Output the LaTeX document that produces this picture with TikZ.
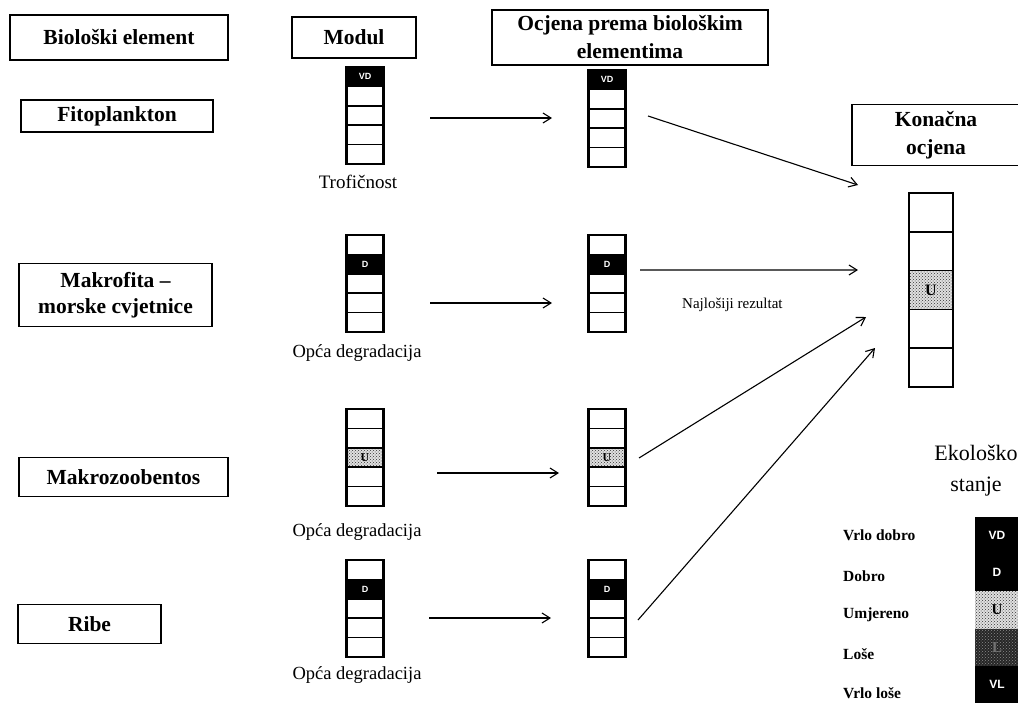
\documentclass[tikz,border=0pt]{standalone}
\usepackage{fontspec}
\setmainfont{Liberation Serif}
\setsansfont{Liberation Sans}
\usetikzlibrary{calc,patterns,arrows.meta}

% slova u poljima
\newcommand{\crno}[2][9]{\textcolor{white}{\sffamily\bfseries\fontsize{#1}{#1}\selectfont #2}}
\newcommand{\sivo}[2][12]{{\bfseries\fontsize{#1}{#1}\selectfont #2}}

% stupac s pet polja: ime, x, y vrha, sirina, visina polja, polje, stil, tekst
\newcommand{\stupac}[8]{%
  \node[stupacbox, minimum width=#4pt, minimum height={5*#5pt}, anchor=north] (#1) at (#2,#3) {};
  \fill[#7] ($(#1.north west)+(0,{(#6-1)*#5})$) rectangle ++(#4,#5);
  \node[inner sep=0pt] (#1t) at ($(#1.north)+(0,{(#6-0.5)*#5})$) {#8};
  \foreach \k in {1,...,4}
    \draw[pregrada] ($(#1.north west)+(0,{\k*#5})$) -- ++(#4,0);
  \draw[rub] (#1.north west) rectangle (#1.south east);
}

\begin{document}
\begin{tikzpicture}[x=1pt,y=-1pt,
  okvir/.style={draw, line width=1.3pt, inner sep=0pt, align=center,
    font=\fontsize{21.5}{28}\selectfont\bfseries},
  stupacbox/.style={inner sep=0pt, outer sep=0pt},
  pregrada/.style={line width=1.6pt},
  rub/.style={line width=2.4pt},
  crnopolje/.style={fill=black},
  upolje/.style={fill=black!12, postaction={pattern=crosshatch dots, pattern color=black!80}},
  lpolje/.style={fill=black!85, postaction={pattern=crosshatch dots, pattern color=black!45}},
  pil/.style={-{Straight Barb[length=8pt,width=10pt]}, line width=1.1pt},
  opis/.style={inner sep=0pt, font=\fontsize{18.5}{20}\selectfont},
  legenda/.style={inner sep=0pt, anchor=west, font=\fontsize{15.5}{17}\selectfont\bfseries}]
\useasboundingbox (0,0) rectangle (1018,710);

% zaglavlja
\node[okvir, minimum width=218pt, minimum height=45pt] (bio) at (119,37.5) {Biološki element};
\node[okvir, minimum width=124pt, minimum height=41pt] (modul) at (354,37.5) {Modul};
\node[okvir, minimum width=276pt, minimum height=55pt] (ocj) at (630,37.5) {Ocjena prema biološkim\\elementima};
\node[okvir, minimum width=168pt, minimum height=61pt] (kon) at (936,135) {Konačna\\ocjena};

% bioloski elementi
\node[okvir, minimum width=192pt, minimum height=32pt] (fito) at (117,116) {Fitoplankton};
\node[okvir, minimum width=193pt, minimum height=63pt, font=\fontsize{21.5}{26}\selectfont\bfseries] (makf) at (115.5,295) {Makrofita --\\morske cvjetnice};
\node[okvir, minimum width=209pt, minimum height=39pt] (makz) at (123.5,477) {Makrozoobentos};
\node[okvir, minimum width=143pt, minimum height=39pt] (ribe) at (89.5,624) {Ribe};

% moduli
\stupac{m1}{365}{67}{37}{19.4}{1}{crnopolje}{\crno{VD}}
\stupac{m2}{365}{235}{37}{19.4}{2}{crnopolje}{\crno{D}}
\stupac{m3}{365}{409}{37}{19.4}{3}{upolje}{\sivo{U}}
\stupac{m4}{365}{560}{37}{19.4}{2}{crnopolje}{\crno{D}}
\node[opis, font=\fontsize{19}{20}\selectfont] (trof) at (358,182) {Trofičnost};
\node[opis] (opca2) at (357,353) {Opća degradacija};
\node[opis] (opca3) at (357,532) {Opća degradacija};
\node[opis] (opca4) at (357,675) {Opća degradacija};

% ocjene prema bioloskim elementima
\stupac{a1}{607}{70}{37}{19.4}{1}{crnopolje}{\crno{VD}}
\stupac{a2}{607}{235}{37}{19.4}{2}{crnopolje}{\crno{D}}
\stupac{a3}{607}{409}{37}{19.4}{3}{upolje}{\sivo{U}}
\stupac{a4}{607}{560}{37}{19.4}{2}{crnopolje}{\crno{D}}

% konacna ocjena
\stupac{k}{931}{193}{44}{38.8}{3}{upolje}{\sivo[16]{U}}

\draw[pil] ($(m1.east)+(46.5,2.5)$) -- ($(a1.west)+(-36.5,-0.5)$);
\draw[pil] ($(m2.east)+(46.5,19.5)$) -- ($(a2.west)+(-36.5,19.5)$);
\draw[pil] ($(m3.east)+(53.5,15.5)$) -- ($(a3.west)+(-29.5,15.5)$);
\draw[pil] ($(m4.east)+(45.5,9.5)$) -- ($(a4.west)+(-37.5,9.5)$);

\draw[pil] ($(a1.east)+(22.5,-2.5)$) -- ($(k.west)+(-51,-105)$);
\draw[pil] ($(a2.east)+(14.5,-13.5)$) -- ($(k.west)+(-51,-20)$);
\draw[pil] ($(a3.east)+(13.5,0.5)$) -- ($(k.west)+(-43,27)$);
\draw[pil] ($(a4.east)+(12.5,11.5)$) -- ($(k.west)+(-34,58)$);

\node[inner sep=0pt, anchor=base west, font=\fontsize{15}{16}\selectfont] (najl) at (682,308) {Najlošiji rezultat};

% legenda
\node[inner sep=0pt, align=center, font=\fontsize{22}{31}\selectfont] (eko) at (976,471) {Ekološko\\stanje};
\foreach \st/\tx [count=\i] in {crnopolje/\crno[12]{VD}, crnopolje/\crno[12]{D}, upolje/\sivo[15]{U}, lpolje/\textcolor{black!55}{\sivo[15]{L}}, crnopolje/\crno[12]{VL}} {
  \fill[\st] (975,{517+(\i-1)*37.2}) rectangle ++(46,37.2);
  \node[inner sep=0pt] (lp\i) at (997,{517+(\i-0.5)*37.2}) {\tx};
}
\foreach \tx/\yy [count=\i] in {Vrlo dobro/535, Dobro/576, Umjereno/615, Loše/654, Vrlo loše/693}
  \node[legenda] (leg\i) at (843,\yy) {\tx};
\end{tikzpicture}
\end{document}
